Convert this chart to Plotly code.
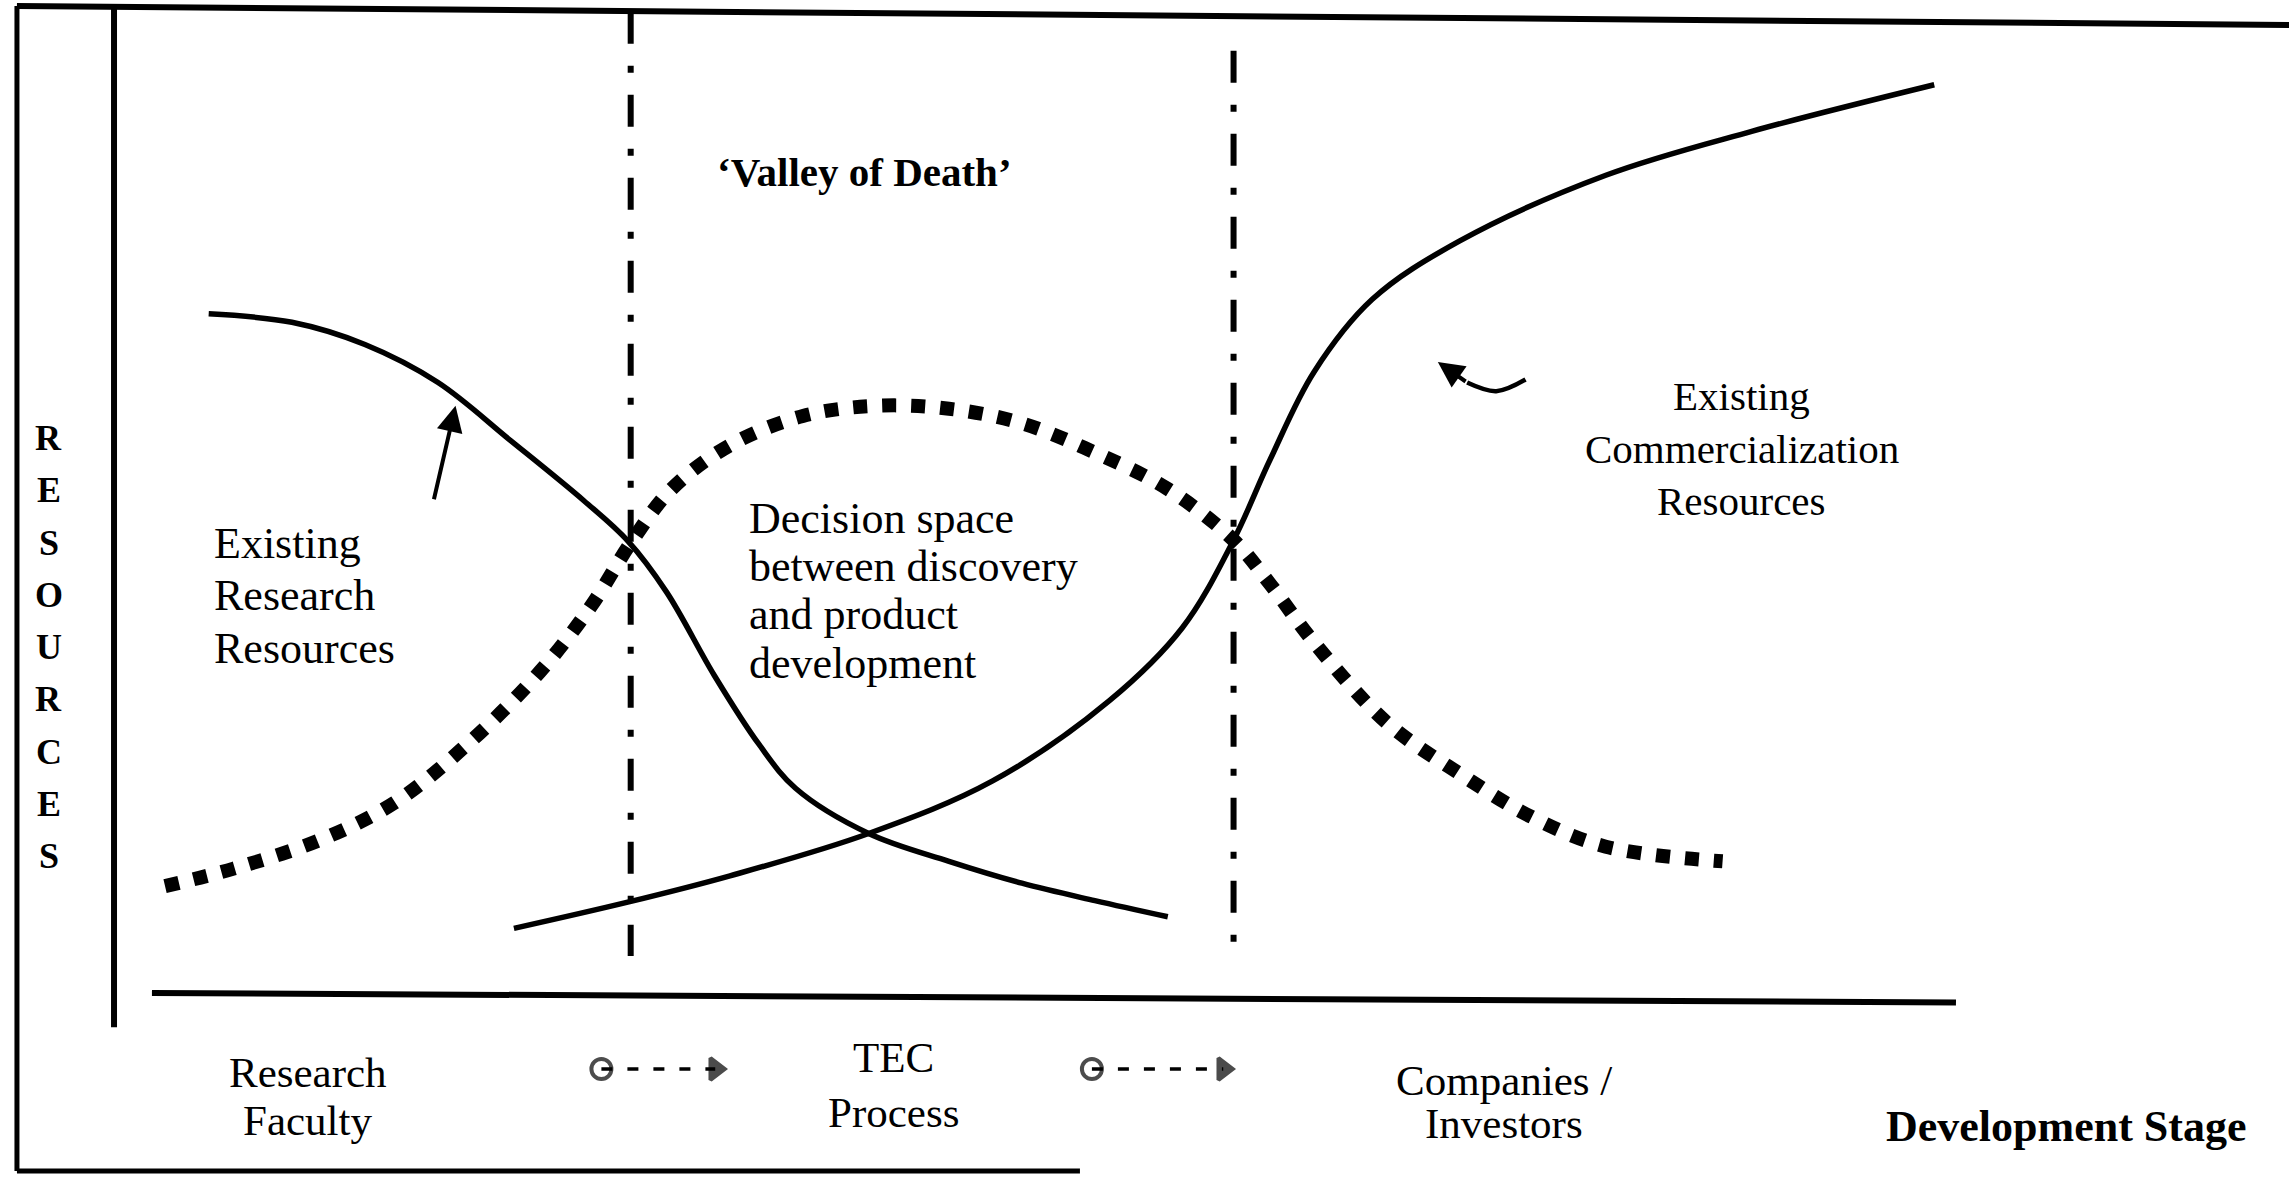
import plotly.graph_objects as go

# ---------------- data (development stage 0-100, resources 0-100) ----------------
research_x = [5.14, 9.66, 13.62, 17.59, 21.55, 25.51, 27.89, 30.0, 32.6, 35.02, 37.00, 40.97, 45.33, 49.29, 53.25, 57.21]
research_y = [71.49, 70.60, 68.26, 64.26, 58.12, 51.82, 47.6, 42.2, 33.4, 26.16, 21.55, 16.79, 13.86, 11.56, 9.72, 8.02]

commercial_x = [21.71, 27.89, 33.44, 40.97, 47.70, 54.04, 58.00, 60.78, 62.76, 65.14, 68.31, 73.06, 80.99, 88.91, 98.82]
commercial_y = [6.80, 9.56, 12.33, 16.79, 22.32, 30.77, 38.45, 47.67, 56.13, 65.35, 73.02, 79.17, 86.08, 90.70, 95.61]

decision_x = [2.77, 6.49, 11.25, 15.21, 19.17, 23.13, 25.91, 28.05, 30.27, 33.44, 37.40, 41.36,
              45.33, 49.29, 53.25, 57.21, 60.78, 62.76, 65.14, 69.10, 73.06, 77.02, 80.99, 87.33]
decision_y = [11.25, 13.09, 16.17, 20.01, 26.16, 33.84, 40.76, 47.37, 53.05, 57.66, 60.74, 61.81,
              61.50, 59.97, 56.89, 53.05, 47.67, 43.06, 36.92, 28.46, 23.08, 18.47, 15.40, 13.86]

boundary_x = [28.05, 60.78]
boundary_top = [103.3, 99.2]
boundary_bottom = [3.9, 3.1]

flow_arrows = [(26.46, 32.64), (53.09, 60.22)]   # "o - - ->" between stages
flow_y = -8.0

stage_labels = [("Research", "Faculty"), ("TEC", "Process"), ("Companies /", "Investors")]
stage_label_x = [10.53, 42.3, 75.44]
stage_label_y = [(-8.42, -13.47), (-6.84, -12.6), (-9.16, -13.79)]

research_label = ["Existing", "Research", "Resources"]
decision_label = ["Decision space", "between discovery", "and product", "development"]
commercial_label = ["Existing", "Commercialization", "Resources"]
axis_letters = list("RESOURCES")

FONT = "Liberation Serif, Times New Roman, serif"
W, H = 2289, 1177

fig = go.Figure()

# dash-dot stage boundaries
for bx, bt, bb in zip(boundary_x, boundary_top, boundary_bottom):
    fig.add_trace(go.Scatter(x=[bx, bx], y=[bt, bb], mode="lines",
                             line=dict(color="black", width=6, dash="32px,22px,7px,22px"),
                             hoverinfo="skip"))

# decision-space (dotted) curve
fig.add_trace(go.Scatter(x=decision_x, y=decision_y, mode="lines",
                         line=dict(color="black", width=14, dash="14px,15px", shape="spline", smoothing=1.0),
                         hoverinfo="skip"))

# research resources curve
fig.add_trace(go.Scatter(x=research_x, y=research_y, mode="lines",
                         line=dict(color="black", width=5.5, shape="spline", smoothing=1.0),
                         hoverinfo="skip"))

# commercialization resources curve
fig.add_trace(go.Scatter(x=commercial_x, y=commercial_y, mode="lines",
                         line=dict(color="black", width=5.5, shape="spline", smoothing=1.0),
                         hoverinfo="skip"))

# flow arrows under the axis
for x0, x1 in flow_arrows:
    fig.add_trace(go.Scatter(x=[x0, x1], y=[flow_y, flow_y], mode="lines+markers",
                             line=dict(color="black", width=3.5, dash="11px,15px"),
                             marker=dict(symbol=["circle-open", "triangle-right"], size=[20, 19],
                                         color="black", line=dict(width=4, color="black")),
                             hoverinfo="skip"))

# curved tail of the commercialization pointer
fig.add_trace(go.Scatter(x=[76.63, 75.04, 73.46], y=[64.58, 63.35, 64.26], mode="lines",
                         line=dict(color="black", width=4.5, shape="spline"), hoverinfo="skip"))

# frame / axes lines
shapes = []
def seg(x0, y0, x1, y1, w):
    shapes.append(dict(type="line", xref="x", yref="y", x0=x0, y0=y0, x1=x1, y1=y1,
                       line=dict(color="black", width=w)))
seg(-5.27, 103.9, -5.27, -18.74, 5)      # outer left border
seg(-5.27, 103.9, 118.5, 101.9, 6)       # top border
seg(-5.27, -18.74, 52.44, -18.74, 5)     # bottom border
seg(0, 103.9, 0, -3.6, 6)                # resources axis
seg(2.06, 0, 100, -1.0, 6)               # development stage axis

annotations = []
def txt(x, y, s, size, bold=False, xanchor="center"):
    annotations.append(dict(x=x, y=y, xref="x", yref="y", text=("<b>%s</b>" % s) if bold else s,
                            showarrow=False, xanchor=xanchor, yanchor="middle",
                            font=dict(family=FONT, size=size, color="black")))

txt(40.72, 86.4, "\u2018Valley of Death\u2019", 41, bold=True)

for i, s in enumerate(research_label):
    txt(5.30, 47.37 - i * 5.55, s, 44, xanchor="left")
for i, s in enumerate(decision_label):
    txt(34.39, 50.0 - i * 5.1, s, 44, xanchor="left")
for i, s in enumerate(commercial_label):
    txt(88.36, 62.84 - i * 5.53, s, 41)

for i, ch in enumerate(axis_letters):
    txt(-3.55, 58.42 - i * 5.5, ch, 36, bold=True)

for (l1, l2), lx, (y1, y2) in zip(stage_labels, stage_label_x, stage_label_y):
    txt(lx, y1, l1, 43)
    txt(lx, y2, l2, 43)

txt(106.0, -14.1, "Development Stage", 44, bold=True)

# pointer arrows
for (hx, hy), (tx, ty) in [((18.54, 61.81), (17.35, 51.82)), ((71.87, 66.42), (73.46, 64.26))]:
    annotations.append(dict(x=hx, y=hy, ax=tx, ay=ty, xref="x", yref="y", axref="x", ayref="y",
                            text="", showarrow=True, arrowhead=2, arrowsize=1.3, arrowwidth=4,
                            arrowcolor="black"))

fig.update_layout(
    width=W, height=H,
    margin=dict(l=0, r=0, t=0, b=0),
    paper_bgcolor="white", plot_bgcolor="white",
    showlegend=False,
    xaxis=dict(range=[-6.19, 118.08], visible=False, fixedrange=True),
    yaxis=dict(range=[-19.37, 104.53], visible=False, fixedrange=True),
    shapes=shapes, annotations=annotations,
)

fig.write_html("out.html", config={"displayModeBar": False},
               post_script="document.body.style.margin='0px';")
